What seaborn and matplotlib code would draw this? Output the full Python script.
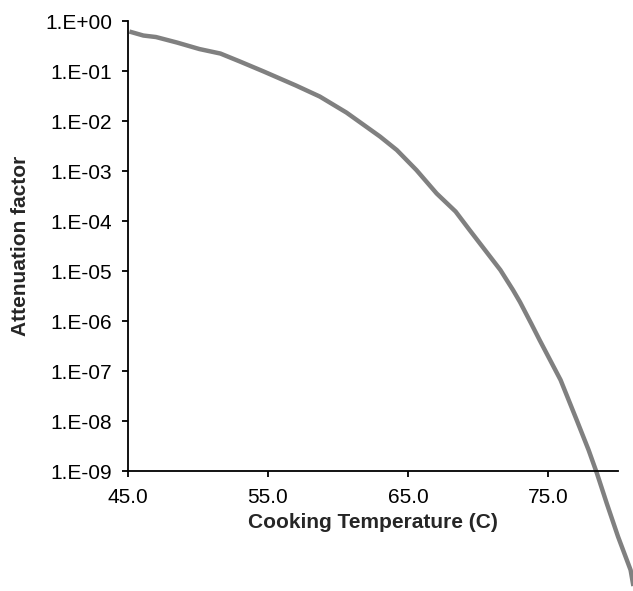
import numpy as np
import pandas as pd
import seaborn as sns
import matplotlib.pyplot as plt
from matplotlib.ticker import FixedLocator, FuncFormatter, NullLocator

# values (temperature in C, log10 of attenuation)
temperature = [45.1, 46.1, 47.0, 48.5, 50.1, 51.6, 53.0, 54.7, 57.0, 58.7,
               60.6, 62.0, 63.0, 64.2, 65.6, 67.05, 68.4, 69.4, 70.5,
               71.6, 72.5, 73.0, 73.8, 74.4, 75.9, 77.05, 77.9, 78.5, 79.2,
               80.0, 80.9, 81.1]
log_attenuation = [-0.21, -0.29, -0.32, -0.43, -0.56, -0.65, -0.81, -1.01,
                   -1.29, -1.51, -1.83, -2.11, -2.31, -2.58, -2.98,
                   -3.45, -3.81, -4.18, -4.58, -4.98, -5.38, -5.62, -6.05,
                   -6.38, -7.18, -7.98, -8.58, -9.05, -9.65, -10.31, -10.98,
                   -11.3]
x_ticks = [45.0, 55.0, 65.0, 75.0]
y_exponents = list(range(0, -10, -1))

df = pd.DataFrame({'temp': temperature,
                   'atten': np.power(10.0, log_attenuation)})

sns.set_style('white')
plt.rcParams['font.family'] = ['Liberation Sans', 'DejaVu Sans']

fig = plt.figure(figsize=(6.33, 5.91), dpi=100)
ax = fig.add_axes([0.2022, 0.203, 0.7741, 0.7614])

sns.lineplot(data=df, x='temp', y='atten', color='#808080', linewidth=3.2,
             ax=ax, sort=False)
for ln in ax.lines:
    ln.set_clip_on(False)
    ln.set_solid_capstyle('butt')
    ln.set_solid_joinstyle('round')

ax.set_yscale('log')
ax.set_ylim(1e-9, 1e0)
ax.set_xlim(45, 80)

ax.xaxis.set_major_locator(FixedLocator(x_ticks))
ax.xaxis.set_major_formatter(FuncFormatter(lambda v, p: f'{v:.1f}'))
ax.yaxis.set_major_locator(FixedLocator([10.0 ** e for e in y_exponents]))
ax.yaxis.set_major_formatter(FuncFormatter(
    lambda v, p: '1.E+00' if round(np.log10(v)) == 0
    else f'1.E-{abs(int(round(np.log10(v)))):02d}'))
ax.yaxis.set_minor_locator(NullLocator())
ax.xaxis.set_minor_locator(NullLocator())

for side in ['top', 'right']:
    ax.spines[side].set_visible(False)
for side in ['left', 'bottom']:
    ax.spines[side].set_color('black')
    ax.spines[side].set_linewidth(1.3)

ax.tick_params(axis='both', which='major', direction='out', length=4.5,
               width=1.3, color='black', labelsize=15, labelcolor='black',
               left=True, bottom=True)
ax.tick_params(axis='y', pad=7)
ax.tick_params(axis='x', pad=8)

ax.set_xlabel('Cooking Temperature (C)', fontsize=15, fontweight='bold',
              labelpad=4)
ax.set_ylabel('Attenuation factor', fontsize=15, fontweight='bold',
              labelpad=11)

fig.savefig('out.png', dpi=100)
